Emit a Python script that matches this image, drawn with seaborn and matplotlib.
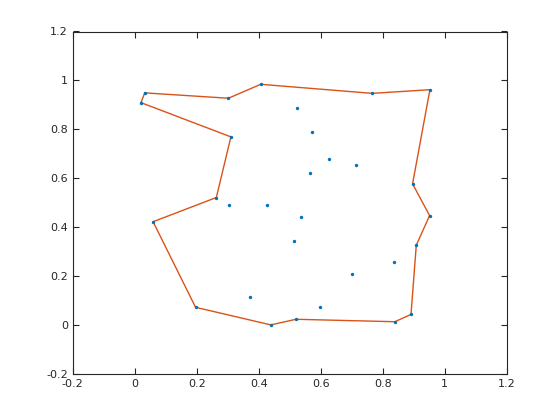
import numpy as np
import pandas as pd
import seaborn as sns
import matplotlib.pyplot as plt
from matplotlib.ticker import FuncFormatter, MultipleLocator

# point cloud
pts_x = [0.032, 0.020, 0.302, 0.406, 0.522, 0.310, 0.263, 0.766, 0.952, 0.570,
         0.625, 0.712, 0.566, 0.896, 0.305, 0.426, 0.535, 0.059, 0.515, 0.373,
         0.196, 0.439, 0.520, 0.951, 0.908, 0.835, 0.702, 0.596, 0.891, 0.839]
pts_y = [0.949, 0.909, 0.927, 0.984, 0.886, 0.769, 0.521, 0.947, 0.962, 0.789,
         0.679, 0.654, 0.620, 0.577, 0.491, 0.492, 0.442, 0.422, 0.344, 0.114,
         0.072, 0.000, 0.023, 0.447, 0.326, 0.258, 0.207, 0.075, 0.043, 0.013]

# concave hull, in drawing order
hull_x = [0.032, 0.302, 0.406, 0.766, 0.952, 0.896, 0.951, 0.908, 0.891, 0.839,
          0.520, 0.439, 0.196, 0.059, 0.263, 0.310, 0.020, 0.032]
hull_y = [0.949, 0.927, 0.984, 0.947, 0.962, 0.577, 0.447, 0.326, 0.043, 0.013,
          0.023, 0.000, 0.072, 0.422, 0.521, 0.769, 0.909, 0.949]

sns.set_style("ticks")
plt.rcParams['font.family'] = ['DejaVu Sans']

pts = pd.DataFrame({"x": pts_x, "y": pts_y})
hull = pd.DataFrame({"x": hull_x, "y": hull_y})

fig = plt.figure(figsize=(5.6, 4.2), dpi=100)
ax = fig.add_axes([0.13, 0.11, 0.775, 0.815])

sns.lineplot(data=hull, x="x", y="y", sort=False, estimator=None,
             color="#D95319", linewidth=1.0, ax=ax, zorder=2)
sns.scatterplot(data=pts, x="x", y="y", color="#0072BD", s=6,
                linewidth=0, ax=ax, zorder=3)

ax.set_xlim(-0.2, 1.2)
ax.set_ylim(-0.2, 1.2)
ax.xaxis.set_major_locator(MultipleLocator(0.2))
ax.yaxis.set_major_locator(MultipleLocator(0.2))
fmt = FuncFormatter(lambda v, p: "%g" % round(v, 2))
ax.xaxis.set_major_formatter(fmt)
ax.yaxis.set_major_formatter(fmt)
ax.set_xlabel("")
ax.set_ylabel("")

for s in ax.spines.values():
    s.set_visible(True)
    s.set_color("#262626")
    s.set_linewidth(0.8)
ax.tick_params(direction="in", top=True, right=True, length=4, width=0.8,
               color="#262626", labelcolor="#262626", labelsize=8)

fig.savefig("out.png", dpi=100)
